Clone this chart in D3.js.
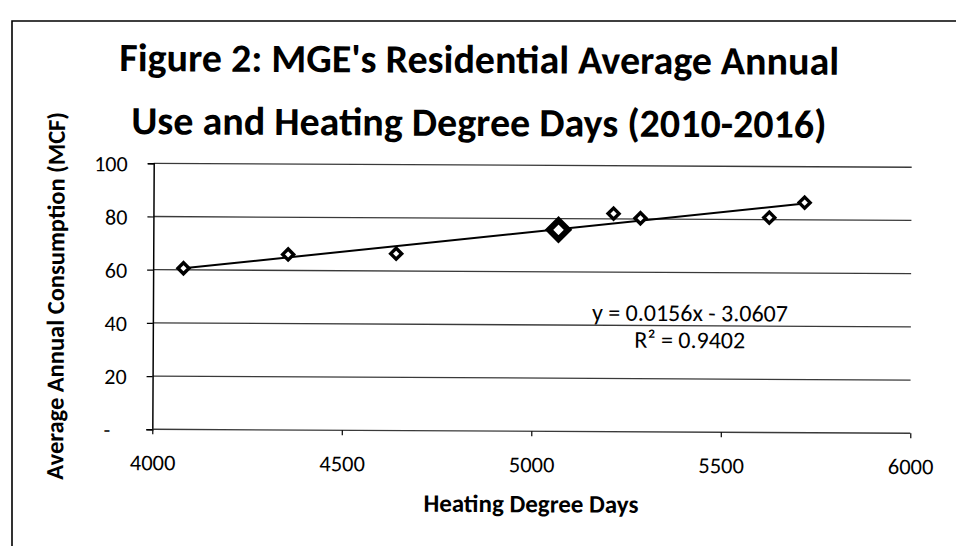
<!DOCTYPE html>
<html>
<head>
<meta charset="utf-8">
<script src="https://cdn.jsdelivr.net/npm/d3@7"></script>
<style>
  html, body { margin: 0; padding: 0; background: #fff; }
  svg { display: block; }
  text { font-family: Calibri, Carlito, Lato, "Open Sans", sans-serif; fill: #000; }
</style>
</head>
<body>
<svg id="chart" width="956" height="546"></svg>
<script>
// ---- data ----
const titleLines = ["Figure 2: MGE's Residential Average Annual", "Use and Heating Degree Days (2010-2016)"];
const xTitle = "Heating Degree Days";
const yTitle = "Average Annual Consumption (MCF)";
const heatingDegreeDays = [4080, 4356, 4641, 5069, 5214, 5285, 5625, 5718];
const avgConsumption    = [60.6, 66.0, 66.5, 75.8, 82.0, 80.3, 80.8, 86.5];
const highlightIndex = 3;
const xTicks = [4000, 4500, 5000, 5500, 6000];
const yTicks = [0, 20, 40, 60, 80, 100];
const yTickLabels = ["-", "20", "40", "60", "80", "100"];
const trendSlope = 0.0156;
const trendIntercept = -3.0607;
const trendR2 = 0.9402;

// ---- layout ----
const W = 956, H = 546;
const plot = { left: 153, right: 911, top: 165, bottom: 431 };
const svg = d3.select("#chart");

const root = svg.append("g").attr("transform", "rotate(0.3 478 300)");

const x = d3.scaleLinear().domain([4000, 6000]).range([plot.left, plot.right]);
const y = d3.scaleLinear().domain([0, 100]).range([plot.bottom, plot.top]);

// outer border (scanned frame)
svg.append("path")
  .attr("d", `M12,${H} L12,21 L${W},21`)
  .attr("fill", "none").attr("stroke", "#000").attr("stroke-width", 1.6);

// title
root.append("text")
  .attr("x", 478).attr("y", 73)
  .attr("text-anchor", "middle")
  .attr("font-size", 40).attr("font-weight", "bold")
  .selectAll("tspan").data(titleLines).join("tspan")
  .attr("x", 478).attr("dy", (d, i) => i === 0 ? 0 : 63)
  .text(d => d);

// gridlines
root.append("g").selectAll("line").data(yTicks.filter(v => v > 0)).join("line")
  .attr("x1", plot.left).attr("x2", plot.right)
  .attr("y1", d => y(d)).attr("y2", d => y(d))
  .attr("stroke", "#3a3a3a").attr("stroke-width", 1.3);

// y axis
const yAxis = d3.axisLeft(y).tickValues(yTicks).tickSize(6).tickPadding(20)
  .tickFormat((d, i) => yTickLabels[i]);
const gy = root.append("g").attr("transform", `translate(${plot.left},0)`).call(yAxis);
gy.select(".domain").attr("stroke", "#000").attr("stroke-width", 1.5);
gy.selectAll(".tick line").attr("stroke", "#000").attr("stroke-width", 1.2);
gy.selectAll(".tick text").attr("font-size", 22).attr("font-family", null)
  .attr("dy", "0.35em");
gy.selectAll(".tick text").filter(d => d === 0).attr("dx", -16);

// x axis
const xAxis = d3.axisBottom(x).tickValues(xTicks).tickSize(5).tickPadding(20)
  .tickFormat(d3.format("d"));
const gx = root.append("g").attr("transform", `translate(0,${plot.bottom})`).call(xAxis);
gx.select(".domain").attr("stroke", "#3a3a3a").attr("stroke-width", 1.4)
  .attr("d", `M${plot.left},0H${plot.right}`);
gx.selectAll(".tick line").attr("stroke", "#000").attr("stroke-width", 1.2);
gx.selectAll(".tick text").attr("font-size", 22.5).attr("font-family", null);

// axis titles
root.append("text")
  .attr("x", (plot.left + plot.right) / 2).attr("y", 512)
  .attr("text-anchor", "middle").attr("font-size", 25).attr("font-weight", "bold")
  .text(xTitle);
root.append("text")
  .attr("transform", `translate(64,${(plot.top + plot.bottom) / 2}) rotate(-90)`)
  .attr("text-anchor", "middle").attr("font-size", 24.5).attr("font-weight", "bold")
  .text(yTitle);

// trendline across data range
const xMin = d3.min(heatingDegreeDays), xMax = d3.max(heatingDegreeDays);
root.append("line")
  .attr("x1", x(xMin)).attr("y1", y(trendSlope * xMin + trendIntercept))
  .attr("x2", x(xMax)).attr("y2", y(trendSlope * xMax + trendIntercept))
  .attr("stroke", "#000").attr("stroke-width", 2);

// markers
const pts = heatingDegreeDays.map((v, i) => ({ x: v, y: avgConsumption[i], big: i === highlightIndex }));
root.append("g").selectAll("path").data(pts).join("path")
  .attr("transform", d => `translate(${x(d.x)},${y(d.y)})`)
  .attr("d", d => { const r = d.big ? 9.5 : 5.5; return `M0,${-r}L${r},0L0,${r}L${-r},0Z`; })
  .attr("fill", "#fff").attr("stroke", "#000")
  .attr("stroke-width", d => d.big ? 6 : 3.4).attr("stroke-linejoin", "miter");

// equation
const fmt4 = d3.format(".4f");
root.append("text")
  .attr("x", 690).attr("y", 320).attr("text-anchor", "middle").attr("font-size", 24)
  .text(`y = ${fmt4(trendSlope)}x - ${fmt4(-trendIntercept)}`);
root.append("text")
  .attr("x", 690).attr("y", 347).attr("text-anchor", "middle").attr("font-size", 24)
  .text(`R² = ${fmt4(trendR2)}`);
</script>
</body>
</html>
